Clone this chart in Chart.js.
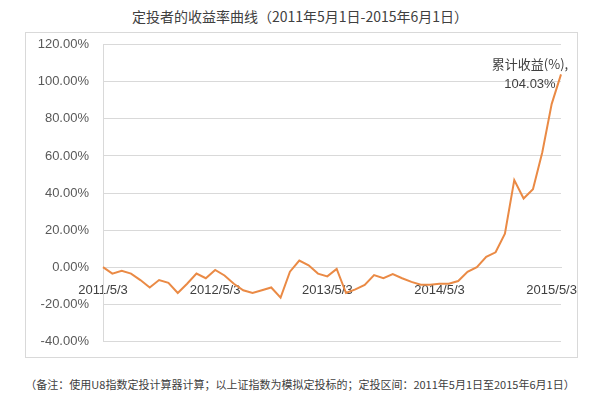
<!DOCTYPE html>
<html>
<head>
<meta charset="utf-8">
<script src="https://cdn.jsdelivr.net/npm/chart.js@4/dist/chart.umd.min.js"></script>
<style>
    body { margin: 0; width: 600px; height: 398px; background: #fff; position: relative; overflow: hidden; }
    .title { position: absolute; top: 6px; left: 0; width: 600px; text-align: center;
        font-family: "Noto Sans CJK SC", sans-serif; font-size: 14px; color: #404040; }
    .box { position: absolute; left: 25px; top: 32px; width: 553px; height: 326px;
        border: 1px solid #d9d9d9; box-sizing: border-box; overflow: hidden; }
    .box canvas { position: absolute; left: 0; top: -10px; }
    .note { position: absolute; top: 376px; left: 0; width: 600px; text-align: center;
        font-family: "Noto Sans CJK SC", sans-serif; font-size: 11px; color: #404040; }
</style>
</head>
<body>
<div class="title">定投者的收益率曲线（2011年5月1日-2015年6月1日）</div>
<div class="box"><canvas id="profit-chart" width="551" height="340"></canvas></div>
<div class="note">（备注：使用U8指数定投计算器计算；以上证指数为模拟定投标的；定投区间：2011年5月1日至2015年6月1日）</div>
<script>
// monthly points, only the yearly dates carry a label
let dates = [
    '2011/5/3', '', '', '', '', '', '', '', '', '', '', '',
    '2012/5/3', '', '', '', '', '', '', '', '', '', '', '',
    '2013/5/3', '', '', '', '', '', '', '', '', '', '', '',
    '2014/5/3', '', '', '', '', '', '', '', '', '', '', '',
    '2015/5/3', ''
];
let profits = [
    0, -3.5, -2, -3.5, -7, -11, -7, -8.5, -14, -9, -3.5, -6,
    -1.5, -4.5, -9, -12.5, -14, -12.5, -11, -16.5, -2.5, 3.5, 1, -3.5,
    -5, -1, -14, -12, -9.6, -4.3, -6, -3.8, -6, -8, -9.5, -9.5,
    -9, -9, -7.5, -2.5, 0, 5.5, 8, 18, 47, 37, 42, 62,
    88, 104.03
];
let seriesName = '累计收益(%)';
let yTicks = { min: -40, max: 120, step: 20 };

let gridColor = '#d9d9d9';

let lastLabel = {
    id: 'lastLabel',
    afterDatasetsDraw: function (chart) {
        let meta = chart.getDatasetMeta(0);
        let pt = meta.data[meta.data.length - 1];
        let ctx = chart.ctx;
        ctx.save();
        ctx.fillStyle = '#404040';
        ctx.textAlign = 'center';
        ctx.textBaseline = 'middle';
        ctx.font = '13px "Noto Sans CJK SC"';
        ctx.fillText(seriesName + ',', pt.x - 31, pt.y - 10);
        ctx.font = '13px "Liberation Sans"';
        ctx.fillText(profits[profits.length - 1].toFixed(2) + '%', pt.x - 31, pt.y + 10);
        ctx.restore();
    }
};

function drawProfitChart() {
    let canvas = document.getElementById('profit-chart');
    let data = {
        labels: dates,
        datasets: [{
            label: seriesName,
            data: profits,
            borderColor: '#ea8a45',
            borderWidth: 2,
            pointRadius: 0,
            tension: 0,
            fill: false
        }]
    };
    new Chart(canvas.getContext('2d'), {
        type: 'line',
        data: data,
        plugins: [lastLabel],
        options: {
            responsive: false,
            animation: false,
            devicePixelRatio: 1,
            layout: { padding: { top: 10, right: 16, bottom: 16, left: 0 } },
            plugins: { legend: { display: false }, tooltip: { enabled: false } },
            scales: {
                x: {
                    position: { y: 0 },
                    offset: false,
                    grid: { display: false, drawTicks: false },
                    border: { display: true, color: gridColor },
                    ticks: {
                        autoSkip: false, maxRotation: 0, padding: 16,
                        color: '#404040',
                        font: { family: 'Liberation Sans', size: 13 }
                    }
                },
                y: {
                    min: yTicks.min,
                    max: yTicks.max,
                    afterFit: function (s) { s.width = 77; },
                    grid: { color: gridColor, drawTicks: false },
                    border: { color: gridColor },
                    ticks: {
                        stepSize: yTicks.step, padding: 14,
                        color: '#595959',
                        font: { family: 'Liberation Sans', size: 13 },
                        callback: function (v) { return v.toFixed(2) + '%'; }
                    }
                }
            }
        }
    });
}

drawProfitChart();
</script>
</body>
</html>
